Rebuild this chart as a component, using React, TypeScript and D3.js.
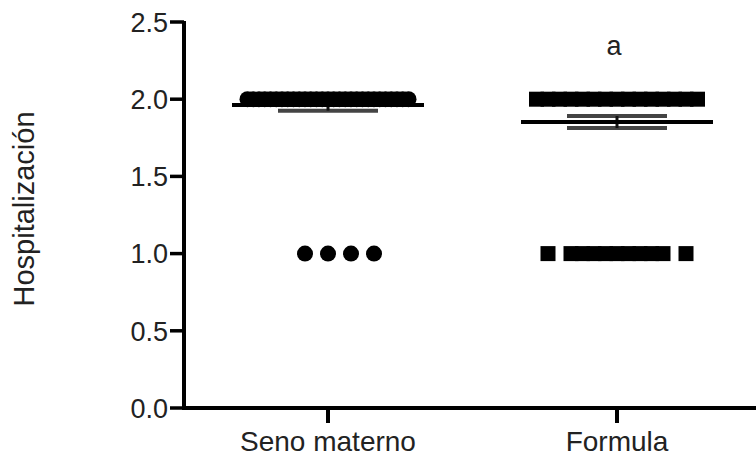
import React from "react";
import * as d3 from "d3";

const categories = ["Seno materno", "Formula"];
const yTicks = [0, 0.5, 1.0, 1.5, 2.0, 2.5];
const yTitle = "Hospitalización";

// Seno materno points (value, horizontal slot)
const senoValues = [
  2, 2, 2, 2, 2, 2, 2, 2, 2, 2, 2, 2, 2, 2, 2, 2, 2, 2, 2, 2, 2, 2, 2, 2, 2, 2, 2, 2, 2,
  1, 1, 1, 1,
];
const senoSlots = [
  -3.5, -3.25, -3, -2.75, -2.5, -2.25, -2, -1.75, -1.5, -1.25, -1, -0.75, -0.5, -0.25, 0,
  0.25, 0.5, 0.75, 1, 1.25, 1.5, 1.75, 2, 2.25, 2.5, 2.75, 3, 3.25, 3.5,
  -1, 0, 1, 2,
];

// Formula points (value, horizontal slot)
const formulaValues = [2, 2, 2, 2, 2, 2, 2, 2, 2, 2, 2, 2, 2, 2, 2, 1, 1, 1, 1, 1, 1, 1, 1, 1, 1, 1];
const formulaSlots = [-3.5, -3, -2.5, -2, -1.5, -1, -0.5, 0, 0.5, 1, 1.5, 2, 2.5, 3, 3.5, -3, -2, -1.5, -1, -0.5, 0, 0.5, 1, 1.5, 2, 3];

const means = [1.962, 1.852];
const sems = [0.036, 0.039];
const annotations = ["", "a"];

const W = 756;
const H = 457;
const axisX = 184;
const axisY = 408;

export default function App() {
  const y = d3.scaleLinear().domain([0, 2.5]).range([axisY, 22]);
  const x = d3.scalePoint<string>().domain(categories).range([328, 617]);
  const slot = d3.scaleLinear().domain([0, 1]).range([0, 23]);
  const fmt = d3.format(".1f");
  const font = "'Liberation Sans', Arial, Helvetica, sans-serif";

  const seno = senoValues.map((v, i) => ({ v, s: senoSlots[i] }));
  const formula = formulaValues.map((v, i) => ({ v, s: formulaSlots[i] }));
  const sq = 15;
  const meanHalf = 96;
  const capHalf = 50;

  return (
    <svg width={W} height={H} style={{ position: "absolute", left: 0, top: 0, background: "#fff" }}>
      {/* Y axis */}
      <line x1={axisX} x2={axisX} y1={y(2.5) - 1} y2={axisY + 2} stroke="#000" strokeWidth={4} />
      {yTicks.map((t) => (
        <g key={t}>
          <line x1={axisX - 14} x2={axisX} y1={y(t)} y2={y(t)} stroke="#000" strokeWidth={3.5} />
          <text x={168} y={y(t)} dy="0.36em" textAnchor="end" fontSize={27} fontFamily={font} fill="#222">
            {fmt(t)}
          </text>
        </g>
      ))}
      {/* X axis */}
      <line x1={axisX - 2} x2={W} y1={axisY} y2={axisY} stroke="#000" strokeWidth={4} />
      {categories.map((c) => (
        <g key={c}>
          <line x1={x(c)!} x2={x(c)!} y1={axisY} y2={axisY + 15} stroke="#000" strokeWidth={4} />
          <text x={x(c)!} y={451} textAnchor="middle" fontSize={28} fontFamily={font} fill="#222">
            {c}
          </text>
        </g>
      ))}
      {/* Y title */}
      <text
        transform={`translate(34, 209) rotate(-90)`}
        textAnchor="middle"
        fontSize={29}
        fontFamily={font}
        fill="#222"
      >
        {yTitle}
      </text>

      {/* SEM bars */}
      {categories.map((c, i) => {
        const cx = x(c)!;
        const hi = y(means[i] + sems[i]);
        const lo = y(means[i] - sems[i]);
        return (
          <g key={"sem" + c} stroke="#444" strokeWidth={4}>
            <line x1={cx - capHalf} x2={cx + capHalf} y1={hi} y2={hi} />
            <line x1={cx - capHalf} x2={cx + capHalf} y1={lo} y2={lo} />
            <line x1={cx} x2={cx} y1={hi} y2={lo} stroke="#111" strokeWidth={3} />
          </g>
        );
      })}

      {/* Seno materno dots */}
      {seno.map((p, i) => (
        <circle key={"s" + i} cx={x(categories[0])! + slot(p.s)} cy={y(p.v)} r={8} fill="#000" />
      ))}
      {/* Formula squares */}
      {formula.map((p, i) => (
        <rect
          key={"f" + i}
          x={x(categories[1])! + slot(p.s) - sq / 2}
          y={y(p.v) - sq / 2}
          width={sq}
          height={sq}
          fill="#000"
        />
      ))}

      {/* Mean lines */}
      {categories.map((c, i) => (
        <line
          key={"m" + c}
          x1={x(c)! - meanHalf}
          x2={x(c)! + meanHalf}
          y1={y(means[i])}
          y2={y(means[i])}
          stroke="#000"
          strokeWidth={4}
        />
      ))}

      {/* Annotations */}
      {categories.map((c, i) =>
        annotations[i] ? (
          <text key={"a" + c} x={x(c)! - 3} y={55} textAnchor="middle" fontSize={27} fontFamily={font} fill="#222">
            {annotations[i]}
          </text>
        ) : null
      )}
    </svg>
  );
}
